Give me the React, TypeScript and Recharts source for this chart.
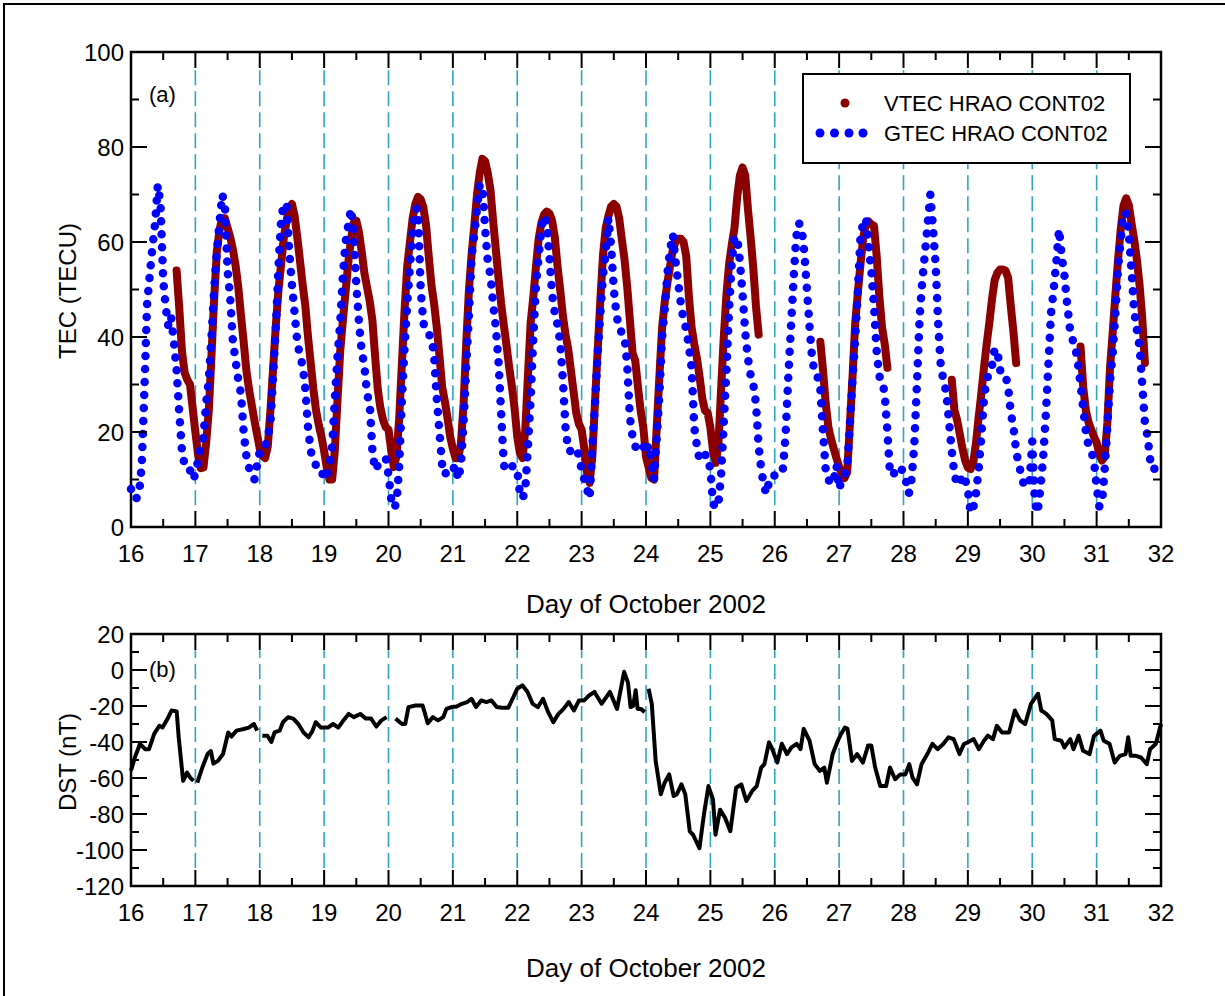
import React from "react";
import {
  ComposedChart,
  Line,
  XAxis,
  YAxis,
  ReferenceLine,
  ReferenceArea,
} from "recharts";

// hourly samples starting at 16.0 October 2002
const FIRST_DAY = 16;
const SAMPLES_PER_DAY = 24;
const n = null;

const dayTicks = [16, 17, 18, 19, 20, 21, 22, 23, 24, 25, 26, 27, 28, 29, 30, 31, 32];
const tecTicks = [0, 10, 20, 30, 40, 50, 60, 70, 80, 90, 100];
const dstTicks = [-120, -110, -100, -90, -80, -70, -60, -50, -40, -30, -20, -10, 0, 10, 20];

// GTEC HRAO CONT02 (TECU), one row per day
const gtec = [
  8, 6, 6, 7, 13, 29, 47, 53, 59, 64, 72, 68, 52, 46, 42, 44, 39, 33, 24, 16, 13, 13, 12, 10, // 16
  11, 14, 17, 19, 26, 31, 40, 50, 58, 64, 70, 68, 54, 48, 39, 35, 31, 28, 20, 15, 12.5, 11, 10, 13, // 17
  16, 16, 17, 19, 22, 32, 42, 55, 65, 68, 68, 58, 51, 45, 39, 36, 34, 29, 21, 16, 14, 13, 13, 12, // 18
  10, 11, 13, 17, 27, 36, 43, 53, 60, 63.5, 67, 62, 51, 43, 37, 34, 28, 26, 16, 12, 13, 13.5, 14, 14.5, // 19
  11, 6, 4, 5, 13, 27, 38, 47, 55, 62, 67, 67, 50, 43, 41, 40.5, 40, 36, 27, 20, 13, 11, 12, 12.5, // 20
  12, 13, 10, 13, 22, 34, 45, 57, 61.6, 67, 72, 72, 63, 56, 53, 47, 42, 35, 24, 13, 12, 12.5, 13, 12, // 21
  12, 7, 6, 8, 17, 27, 40, 51, 57, 63, 65.5, 64, 57, 49, 45, 42.6, 39, 31, 21, 16, 16, 16, 16.6, 15, // 22
  12, 10, 8, 6, 17, 26, 36.6, 45, 53, 58, 65, 59, 50, 44.7, 41.6, 41, 40, 34, 23, 19, 17, 16, 16.5, 17, // 23
  15.5, 17.3, 14, 10, 18.7, 28, 40, 46, 53.5, 58.4, 61.6, 56, 51.4, 47, 43.7, 41.6, 38, 33.5, 21, 17, 14, 14.5, 15.2, 15, // 24
  12, 5, 4, 5, 11, 22, 33, 46, 56, 61, 61, 56, 49, 41, 35.5, 32, 30, 26, 17, 12, 8.5, 7, 10, 10, // 25
  11, 11, 11, 12, 19, 31, 41.6, 52, 61, 64, 63, 58, 50, 42, 35, 32.5, 31.5, 29, 20, 12, 10, 9, 10, 13, // 26
  8, 10, 11, 12.4, 21.5, 31, 39.8, 50, 61.5, 64, 65, 59, 54, 46.5, 37, 31.7, 31, 28, 20, 11, 11, 11.7, 12.5, 12.7, // 27
  11, 9.5, 7, 10, 17, 30, 44, 51.8, 57.7, 63.7, 70, 63, 55, 42, 33, 31, 28, 22, 16, 11, 9, 9, 11, 10, // 28
  7.8, 3, 4, 7, 12, 19, 27, 31, 32.5, 34, 37.5, 37, 33, 33, 32, 29.6, 24, 21, 16, 13, 11, 8.5, 9, 9.5, // 29
  18, 5, 3, 8, 14, 23, 34, 45, 50, 56, 62.7, 57, 53, 47, 42, 39.5, 38, 34.6, 30, 25, 20, 17, 16, 14, // 30
  8.5, 4.3, 5, 12, 21.2, 30.7, 36.6, 45, 54.6, 60.5, 66.2, 66, 62, 54, 45.4, 41.5, 38, 30, 22, 19, 14, 12, 12.5, 13, // 31
  12, // 32.0
];

// VTEC HRAO CONT02 (TECU), n where there is no data
const vtec = [
  n, n, n, n, n, n, n, n, n, n, n, n, n, n, n, n, n, 54, 46, 37, 32.5, 31, 30, 25, // 16
  20, 15.3, 12.4, 12.5, 17.6, 24.5, 36, 48, 58, 62.5, 65, 65, 63, 61, 58.4, 55, 50.5, 44.5, 39, 33, 29, 25.7, 22.5, 19.5, // 17
  16.5, 15, 14.5, 17, 24.7, 33.5, 42.5, 50, 55.5, 61, 64.5, 67, 68, 65.5, 61, 56, 51, 46.5, 40, 34.5, 29, 24.5, 21.5, 19, // 18
  16, 12.5, 10, 10, 16.2, 26.8, 37, 43.5, 49.5, 55.6, 60.5, 64, 64.5, 62, 58, 53.5, 50.5, 47.5, 43.5, 36, 29, 25, 22.5, 21, // 19
  20.5, 16.2, 12.6, 15, 23, 34.5, 45.8, 55, 60, 65, 68, 69.5, 69, 67.3, 63.5, 57, 51, 47, 42, 36, 29.5, 26.5, 23, 19, // 20
  16.5, 14.5, 14.5, 17.6, 26, 39, 50, 57.5, 63.5, 70, 74.5, 77.5, 77, 74.5, 71, 64.5, 58.5, 52.5, 47, 42.5, 38.2, 33.6, 29.6, 25, // 21
  19, 15.5, 14.5, 20.5, 32, 43, 48.5, 55, 60.8, 64, 65.8, 66.4, 66, 64.5, 61, 55, 50, 44.5, 40.5, 37.5, 33, 28.5, 24, 21.7, // 22
  20.5, 16.5, 11.5, 9.3, 15, 26.5, 37.3, 48, 57.5, 63, 65.5, 67.5, 68, 67.5, 65, 60.5, 56.3, 50.5, 43.5, 36.6, 35, 29.5, 24.5, 21, // 23
  14.8, 12.5, 10.3, 10, 21, 31.7, 42, 47.5, 51.5, 55, 58.4, 60, 60.7, 60.7, 60, 57, 48.5, 42, 38.5, 35.5, 31.5, 27, 24.5, 24, // 24
  21, 16, 13.5, 17.5, 29, 40, 49, 55.5, 59.5, 63, 69.5, 74, 75.7, 74, 67, 61, 54.5, 46.5, 40.5, n, n, n, n, n, // 25
  n, n, n, n, n, n, n, n, n, n, n, n, n, n, n, n, n, 39, 33, 26, 21, 18.5, 16.5, 14.5, // 26
  12.7, 11.3, 10.3, 11.5, 21.5, 31.7, 43, 49.5, 55.5, 61, 63.8, 64.3, 63.7, 63.4, 57, 48.5, 42, 38.5, 33.5, n, n, n, n, n, // 27
  n, n, n, n, n, n, n, n, n, n, n, n, n, n, n, n, n, n, 31, 24.5, 22.5, 19.5, 16.5, 14, // 28
  12.5, 12.2, 13.5, 17.6, 23, 28, 33.5, 38.5, 43, 48, 52, 53.5, 54.2, 54.2, 54, 52.5, 46.5, 41, 34.5, n, n, n, n, n, // 29
  n, n, n, n, n, n, n, n, n, n, n, n, n, n, n, n, n, n, 38, 29.5, 24.5, 22, 20.5, 19, // 30
  17.8, 15.3, 14, 14.8, 21.9, 33.5, 41, 49, 56.3, 62.7, 67.6, 69.2, 67.8, 64, 60.5, 56.3, 51, 44, 34.5, n, n, n, n, n, // 31
  n, // 32.0
];

// DST (nT): [day, value], null marks a break in the record
const dst: [number, number | null][] = [
  [16.0, -56], [16.06, -48.6], [16.14, -41], [16.22, -44], [16.28, -44], [16.36, -35.5], [16.44, -31], [16.49, -32],
  [16.57, -27], [16.63, -22.5], [16.71, -23], [16.74, -37], [16.81, -61.6], [16.87, -57], [16.92, -59.8], [16.97, -61.6],
  [17.0, null],
  [17.03, -62.6], [17.11, -54], [17.19, -46.7], [17.24, -45], [17.28, -52], [17.35, -50.5], [17.43, -46.7], [17.51, -34.7],
  [17.56, -37], [17.64, -33.7], [17.75, -32.8], [17.83, -32], [17.91, -30], [17.96, -33.7],
  [18.0, null],
  [18.04, -36.5], [18.12, -36.5], [18.18, -40], [18.23, -34.7], [18.31, -33.7], [18.36, -29], [18.44, -26.2], [18.52, -27],
  [18.6, -30], [18.68, -34.7], [18.76, -37.4], [18.82, -33.7], [18.87, -29], [18.95, -32], [19.06, -32], [19.14, -30],
  [19.22, -32], [19.3, -28], [19.38, -24.4], [19.46, -26.2], [19.56, -24.4], [19.65, -27], [19.73, -27], [19.81, -31.4],
  [19.89, -28], [19.97, -26.2],
  [20.04, null],
  [20.11, -27], [20.21, -30], [20.26, -30], [20.31, -20.6], [20.42, -19.7], [20.53, -19.7], [20.61, -29.6], [20.69, -26.2],
  [20.77, -28], [20.85, -26.2], [20.9, -21.6], [20.98, -20.6], [21.06, -20.3], [21.14, -18.8], [21.22, -17.8], [21.29, -16],
  [21.36, -20.6], [21.44, -16.9], [21.52, -17.8], [21.6, -16.9], [21.68, -20.6], [21.76, -21], [21.86, -21], [21.94, -15],
  [22.0, -10.4], [22.08, -8.5], [22.16, -12.2], [22.24, -18.8], [22.32, -20.6], [22.4, -16], [22.48, -23.4], [22.56, -29],
  [22.64, -24.4], [22.72, -21.6], [22.8, -17.8], [22.88, -22.5], [22.96, -16.9], [23.04, -16.9], [23.12, -14], [23.2, -12.2],
  [23.31, -18.8], [23.44, -12.2], [23.55, -21.6], [23.66, -1], [23.72, -7], [23.76, -20.6], [23.8, -20], [23.84, -11.3],
  [23.87, -21.6], [23.92, -21.6], [23.98, -23.4],
  [24.0, null],
  [24.04, -10.4], [24.09, -18.8], [24.15, -50.5], [24.23, -69], [24.29, -62.6], [24.36, -58], [24.43, -70], [24.48, -69],
  [24.55, -63.5], [24.61, -69], [24.68, -89.6], [24.73, -91.5], [24.83, -99], [24.9, -80.3], [24.97, -64.5], [25.04, -71.9],
  [25.08, -91.5], [25.15, -77.6], [25.23, -82.2], [25.31, -89.6], [25.4, -65.4], [25.48, -63.5], [25.56, -72.8], [25.65, -67.2],
  [25.72, -64.5], [25.79, -54.2], [25.84, -52.3], [25.91, -40.2], [25.95, -43], [26.04, -51.4], [26.11, -41], [26.19, -46.7],
  [26.26, -43], [26.34, -41], [26.4, -44], [26.45, -32.7], [26.54, -39.3], [26.62, -52.3], [26.7, -56], [26.77, -54.2],
  [26.81, -62.6], [26.9, -46.7], [26.98, -39.3], [27.03, -35.5], [27.09, -32], [27.13, -32.7], [27.2, -50.5], [27.28, -46.7],
  [27.37, -51.4], [27.45, -42], [27.5, -42], [27.56, -54.2], [27.64, -64.5], [27.73, -64.5], [27.79, -54.2], [27.87, -60.7],
  [27.95, -58], [28.03, -58], [28.09, -52.3], [28.14, -59.8], [28.21, -63.5], [28.28, -52.3], [28.37, -46.7], [28.45, -41],
  [28.53, -44], [28.62, -41], [28.7, -37.4], [28.78, -38.4], [28.87, -46.7], [28.94, -41], [29.0, -40.2], [29.09, -38.4],
  [29.17, -44], [29.25, -39.3], [29.31, -36.5], [29.39, -38.4], [29.45, -31], [29.53, -34.7], [29.64, -34.7], [29.73, -22.5],
  [29.81, -28], [29.89, -30], [29.98, -18.8], [30.09, -13.2], [30.14, -22.5], [30.22, -24.4], [30.31, -28], [30.35, -38.4],
  [30.45, -39.3], [30.5, -43], [30.59, -38.4], [30.64, -44], [30.72, -36.5], [30.79, -44.9], [30.89, -46.7], [30.96, -36.5],
  [31.06, -33.7], [31.11, -39.3], [31.2, -41], [31.28, -51.4], [31.36, -47.7], [31.45, -46.7], [31.49, -37.4], [31.53, -47.7],
  [31.61, -47.7], [31.69, -48.6], [31.78, -52.3], [31.83, -44], [31.92, -41], [32.0, -30],
];

const tecRows = gtec.map((g, i) => ({
  day: FIRST_DAY + i / SAMPLES_PER_DAY,
  gtec: g,
  vtec: vtec[i],
}));
const dstRows = dst.map(([day, value]) => ({ day, dst: value }));

const halfDayTicks = dayTicks.flatMap((d) => (d < 32 ? [d, d + 0.5] : [d]));
const gridDays = dayTicks.slice(1, -1);

const VTEC_COLOR = "#8b0000";
const GTEC_COLOR = "#0000ff";
const GRID_COLOR = "#2ea6c2";
const FONT = '"Liberation Sans", Arial, Helvetica, sans-serif';

const PLOT_LEFT = 131;
const PLOT_RIGHT = 1161;

// inward ticks on bottom and top edges, labels under the integer days
const makeXTick = (plotTop: number, plotBottom: number) => (props: any) => {
  const { x, payload } = props;
  const v = payload.value as number;
  const major = Number.isInteger(v);
  const len = major ? 16 : 8;
  return (
    <g>
      <line x1={x} x2={x} y1={plotBottom} y2={plotBottom - len} stroke="#000" strokeWidth={2} />
      <line x1={x} x2={x} y1={plotTop} y2={plotTop + len} stroke="#000" strokeWidth={2} />
      {major && (
        <text x={x} y={plotBottom + 35} textAnchor="middle" fontSize={24} fill="#000" fontFamily={FONT}>
          {v}
        </text>
      )}
    </g>
  );
};

// inward ticks on left and right edges
const makeYTick = (labelStep: number) => (props: any) => {
  const { y, payload } = props;
  const v = payload.value as number;
  const major = v % labelStep === 0;
  const len = major ? 16 : 8;
  return (
    <g>
      <line x1={PLOT_LEFT} x2={PLOT_LEFT + len} y1={y} y2={y} stroke="#000" strokeWidth={2} />
      <line x1={PLOT_RIGHT} x2={PLOT_RIGHT - len} y1={y} y2={y} stroke="#000" strokeWidth={2} />
      {major && (
        <text x={PLOT_LEFT - 7} y={y + 8.5} textAnchor="end" fontSize={24} fill="#000" fontFamily={FONT}>
          {v}
        </text>
      )}
    </g>
  );
};

function TecPanel() {
  return (
    <ComposedChart
      width={1225}
      height={600}
      data={tecRows}
      margin={{ top: 52, right: 1225 - PLOT_RIGHT, bottom: 72, left: PLOT_LEFT - 1 }}
    >
      <XAxis
        dataKey="day"
        type="number"
        domain={[16, 32]}
        ticks={halfDayTicks}
        interval={0}
        height={1}
        axisLine={false}
        tickLine={false}
        tickSize={0}
        tickMargin={0}
        tick={makeXTick(52, 527)}
      />
      <YAxis
        type="number"
        domain={[0, 100]}
        ticks={tecTicks}
        interval={0}
        width={1}
        axisLine={false}
        tickLine={false}
        tickSize={0}
        tickMargin={0}
        tick={makeYTick(20)}
      />
      {gridDays.map((d) => (
        <ReferenceLine
          key={d}
          segment={[
            { x: d, y: 4.6 },
            { x: d, y: 96.2 },
          ]}
          stroke={GRID_COLOR}
          strokeWidth={1.6}
          strokeDasharray="15 6"
        />
      ))}
      <Line
        dataKey="vtec"
        type="linear"
        stroke={VTEC_COLOR}
        strokeWidth={8}
        strokeLinecap="round"
        strokeLinejoin="round"
        dot={false}
        connectNulls={false}
        isAnimationActive={false}
      />
      <Line
        dataKey="gtec"
        type="linear"
        stroke={GTEC_COLOR}
        strokeWidth={8.5}
        strokeDasharray="0 13"
        strokeLinecap="round"
        dot={false}
        isAnimationActive={false}
      />
      <ReferenceArea x1={16} x2={32} y1={0} y2={100} fill="none" stroke="#000" strokeWidth={2.5} />
    </ComposedChart>
  );
}

function DstPanel() {
  return (
    <ComposedChart
      width={1225}
      height={396}
      data={dstRows}
      margin={{ top: 34, right: 1225 - PLOT_RIGHT, bottom: 109, left: PLOT_LEFT - 1 }}
    >
      <XAxis
        dataKey="day"
        type="number"
        domain={[16, 32]}
        ticks={halfDayTicks}
        interval={0}
        height={1}
        axisLine={false}
        tickLine={false}
        tickSize={0}
        tickMargin={0}
        tick={makeXTick(34, 286)}
      />
      <YAxis
        type="number"
        domain={[-120, 20]}
        ticks={dstTicks}
        interval={0}
        width={1}
        axisLine={false}
        tickLine={false}
        tickSize={0}
        tickMargin={0}
        tick={makeYTick(20)}
      />
      {gridDays.map((d) => (
        <ReferenceLine
          key={d}
          segment={[
            { x: d, y: -110 },
            { x: d, y: 11 },
          ]}
          stroke={GRID_COLOR}
          strokeWidth={1.6}
          strokeDasharray="15 6"
        />
      ))}
      <Line
        dataKey="dst"
        type="linear"
        stroke="#000"
        strokeWidth={4}
        strokeLinejoin="round"
        dot={false}
        connectNulls={false}
        isAnimationActive={false}
      />
      <ReferenceArea x1={16} x2={32} y1={-120} y2={20} fill="none" stroke="#000" strokeWidth={2.5} />
    </ComposedChart>
  );
}

const textStyle: React.CSSProperties = {
  position: "absolute",
  fontFamily: FONT,
  color: "#000",
  whiteSpace: "nowrap",
  lineHeight: 1,
};

export default function App() {
  return (
    <div
      style={{
        position: "absolute",
        left: 0,
        top: 0,
        width: 1225,
        height: 996,
        background: "#fff",
        fontFamily: FONT,
        overflow: "hidden",
      }}
    >
      <div
        style={{
          position: "absolute",
          left: 3,
          top: 3,
          width: 1240,
          height: 1010,
          borderTop: "2px solid #000",
          borderLeft: "2px solid #000",
        }}
      />
      <div style={{ position: "absolute", left: 0, top: 0 }}>
        <TecPanel />
      </div>
      <div style={{ position: "absolute", left: 0, top: 600 }}>
        <DstPanel />
      </div>

      <div style={{ ...textStyle, left: 68, top: 291, fontSize: 24, transform: "translate(-50%, -50%) rotate(-90deg)" }}>
        TEC (TECU)
      </div>
      <div style={{ ...textStyle, left: 68, top: 762, fontSize: 24, transform: "translate(-50%, -50%) rotate(-90deg)" }}>
        DST (nT)
      </div>
      <div style={{ ...textStyle, left: 646, top: 604, fontSize: 26, transform: "translate(-50%, -50%)" }}>
        Day of October 2002
      </div>
      <div style={{ ...textStyle, left: 646, top: 968, fontSize: 26, transform: "translate(-50%, -50%)" }}>
        Day of October 2002
      </div>
      <div style={{ ...textStyle, left: 149, top: 95, fontSize: 22, transform: "translateY(-50%)" }}>(a)</div>
      <div style={{ ...textStyle, left: 149, top: 670, fontSize: 22, transform: "translateY(-50%)" }}>(b)</div>

      <div
        style={{
          position: "absolute",
          left: 802,
          top: 73,
          width: 325,
          height: 87,
          border: "2px solid #000",
          background: "#fff",
        }}
      >
        <svg width={325} height={87} style={{ position: "absolute", left: 0, top: 0 }}>
          <circle cx={41} cy={28} r={4.5} fill={VTEC_COLOR} />
          {[16, 30.5, 45, 59].map((cx) => (
            <circle key={cx} cx={cx} cy={58} r={4.5} fill={GTEC_COLOR} />
          ))}
          <text x={80} y={36} fontSize={22} fill="#000" fontFamily={FONT}>
            VTEC HRAO CONT02
          </text>
          <text x={80} y={66} fontSize={22} fill="#000" fontFamily={FONT}>
            GTEC HRAO CONT02
          </text>
        </svg>
      </div>
    </div>
  );
}
